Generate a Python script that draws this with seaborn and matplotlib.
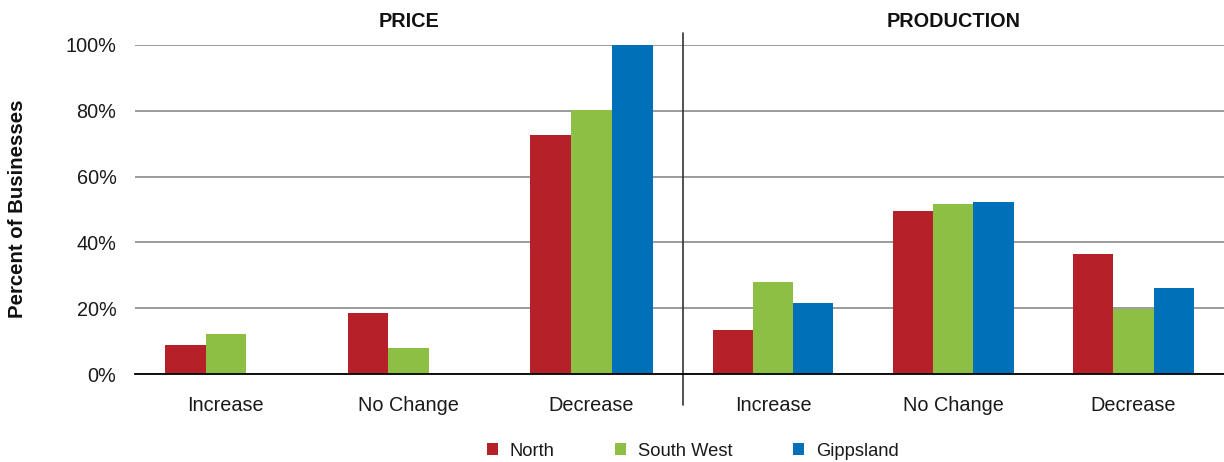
import matplotlib
matplotlib.use("Agg")
import matplotlib.pyplot as plt
from matplotlib.patches import Patch
from matplotlib.lines import Line2D
from matplotlib.ticker import FuncFormatter
import seaborn as sns
import pandas as pd

categories = ["Increase", "No Change", "Decrease"]
regions = ["North", "South West", "Gippsland"]
panels = ["PRICE", "PRODUCTION"]

price_north = [8.7, 18.4, 72.5]
price_southwest = [12.1, 7.9, 80.3]
price_gippsland = [0.0, 0.0, 100.0]

prod_north = [13.4, 49.5, 36.4]
prod_southwest = [28.1, 51.6, 19.9]
prod_gippsland = [21.7, 52.3, 26.0]

colors = ["#B52029", "#8CBF44", "#0070B8"]

series = {
    "PRICE": [price_north, price_southwest, price_gippsland],
    "PRODUCTION": [prod_north, prod_southwest, prod_gippsland],
}

rows = []
for p in panels:
    for r, vals in zip(regions, series[p]):
        for c, v in zip(categories, vals):
            rows.append({"panel": p, "region": r, "category": c, "value": v})
df = pd.DataFrame(rows)

sns.set_theme(style="white")
plt.rcParams["font.family"] = ["Liberation Sans", "DejaVu Sans"]

W, H = 1224, 462
fig = plt.figure(figsize=(W / 100, H / 100), dpi=100)

def px_axes(x0, x1, ytop, ybot):
    return fig.add_axes([x0 / W, 1 - ybot / H, (x1 - x0) / W, (ybot - ytop) / H])

ax1 = px_axes(134.5, 683, 45, 374)
ax2 = px_axes(683, 1223.5, 45, 374)

FS = 14.3
for ax, p in zip([ax1, ax2], panels):
    sub = df[df["panel"] == p]
    sns.barplot(data=sub, x="category", y="value", hue="region", order=categories,
                hue_order=regions, palette=colors, width=0.67, saturation=1,
                edgecolor="none", linewidth=0, ax=ax, legend=False)
    ax.set_ylim(0, 100)
    ax.set_yticks([0, 20, 40, 60, 80, 100])
    ax.grid(axis="y", color="#808080", linewidth=1.1)
    ax.grid(axis="x", visible=False)
    ax.set_axisbelow(True)
    for s in ["top", "right", "left"]:
        ax.spines[s].set_visible(False)
    ax.spines["bottom"].set_color("black")
    ax.spines["bottom"].set_linewidth(1.3)
    ax.set_xlabel("")
    ax.set_ylabel("")
    ax.tick_params(axis="x", length=0, pad=16, labelsize=FS, colors="#1a1a1a")
    ax.tick_params(axis="y", length=0, pad=13, labelsize=FS, colors="#1a1a1a")
    ax.set_title(p, fontsize=FS, fontweight="bold", pad=13, color="#111111")

ax1.yaxis.set_major_formatter(FuncFormatter(lambda v, _: f"{int(v)}%"))
ax2.tick_params(axis="y", labelleft=False)
fig.text(18 / W, 1 - 208.5 / H, "Percent of Businesses", rotation=90,
         ha="center", va="center", fontsize=FS + 0.4, fontweight="bold", color="#111111")

# divider between panels
ax2.add_line(Line2D([0, 0], [-0.094, 1.036], transform=ax2.transAxes,
                    color="#333333", linewidth=1.2, clip_on=False))

handles = [Patch(facecolor=c, edgecolor="none", label=r) for c, r in zip(colors, regions)]
fig.legend(handles=handles, loc="center", bbox_to_anchor=(693 / W, 1 - 451 / H),
           ncol=3, frameon=False, fontsize=13.2, handlelength=0.6, handleheight=0.6,
           handletextpad=0.65, columnspacing=3.3, labelcolor="#1a1a1a")

fig.savefig("out.png", dpi=100)
